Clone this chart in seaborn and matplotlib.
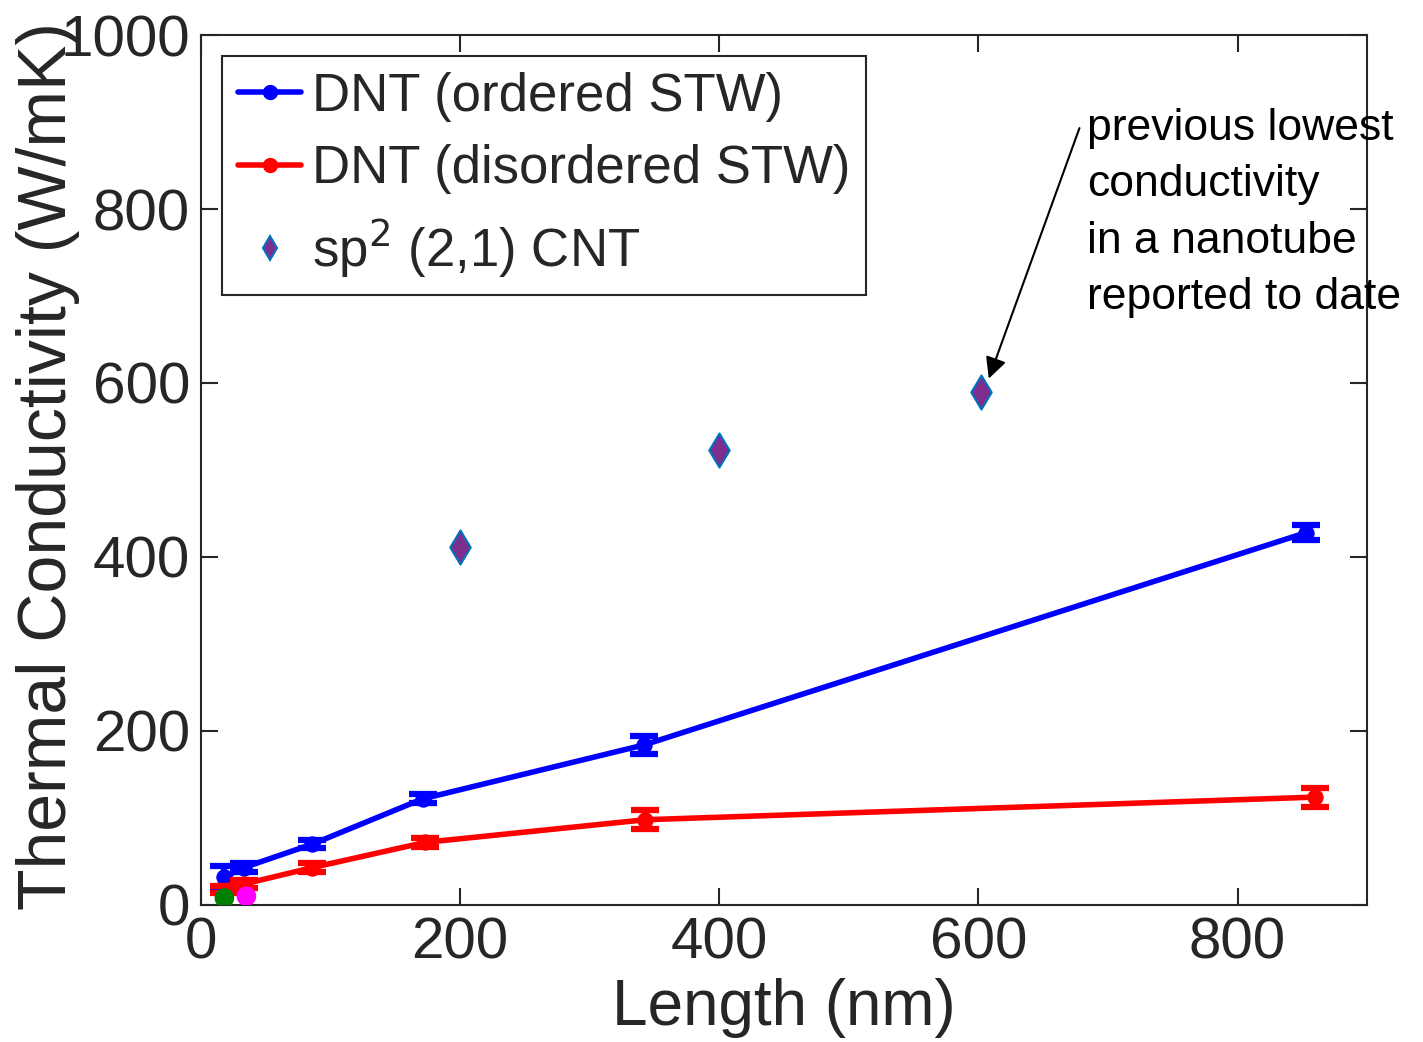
import matplotlib
matplotlib.use("Agg")
import matplotlib.pyplot as plt
from matplotlib.lines import Line2D
import seaborn as sns
import pandas as pd

# Ordered Stone-Thrower-Wales diamond nanothreads
len_ordered = [18, 33, 86, 171, 342, 853]
k_ordered = [32, 43, 70, 122, 184, 428]
err_ordered = [13, 5, 5, 5, 10, 9]

# Disordered Stone-Thrower-Wales diamond nanothreads
len_disordered = [18, 33, 86, 173, 343, 860]
k_disordered = [18, 24, 43, 72, 98, 124]
err_disordered = [4, 5, 5, 5, 11, 11]

# sp2 (2,1) carbon nanotube
len_cnt = [200, 400, 602]
k_cnt = [411, 523, 590]

# Single short-length points
len_extra = [18, 35]
k_extra = [8, 10]
extra_colors = ["#008000", "#ff00ff"]

sns.set_theme(style="ticks")
plt.rcParams["font.family"] = ["Liberation Sans", "DejaVu Sans"]

fig = plt.figure(figsize=(14.23, 10.42), dpi=100)
ax = fig.add_axes([0.1413, 0.1315, 0.8194, 0.8349])

df_o = pd.DataFrame({"L": len_ordered, "k": k_ordered})
df_d = pd.DataFrame({"L": len_disordered, "k": k_disordered})
df_c = pd.DataFrame({"L": len_cnt, "k": k_cnt})

sns.lineplot(data=df_o, x="L", y="k", ax=ax, color="#0000ff", linewidth=4.0,
             marker="o", markersize=11, markeredgecolor="#0000ff", zorder=3)
sns.lineplot(data=df_d, x="L", y="k", ax=ax, color="#ff0000", linewidth=4.0,
             marker="o", markersize=11, markeredgecolor="#ff0000", zorder=3)
ax.errorbar(len_ordered, k_ordered, yerr=err_ordered, fmt="none",
            ecolor="#0000ff", elinewidth=4.5, capsize=10, capthick=4.5, zorder=3)
ax.errorbar(len_disordered, k_disordered, yerr=err_disordered, fmt="none",
            ecolor="#ff0000", elinewidth=4.5, capsize=10, capthick=4.5, zorder=3)

sns.scatterplot(data=df_c, x="L", y="k", ax=ax, marker="d", s=300,
                color="#7e2f8e", edgecolor="#0072bd", linewidth=1.5, zorder=4)
sns.scatterplot(x=len_extra, y=k_extra, ax=ax, hue=extra_colors,
                palette={c: c for c in extra_colors}, s=200, linewidth=0,
                legend=False, zorder=5)

ax.set_xlim(0, 900)
ax.set_ylim(0, 1000)
ax.set_xticks([0, 200, 400, 600, 800])
ax.set_yticks([0, 200, 400, 600, 800, 1000])
ax.tick_params(direction="in", length=12, width=1.5, top=True, right=True,
               labelsize=42, colors="#262626", pad=8)
for s in ax.spines.values():
    s.set_visible(True)
    s.set_linewidth(1.5)
    s.set_color("#262626")

ax.set_xlabel("Length (nm)", fontsize=46, color="#262626", labelpad=6)
ax.set_ylabel("Thermal Conductivity (W/mK)", fontsize=49, color="#262626")
ax.yaxis.set_label_coords(-0.104, 0.505)

handles = [
    Line2D([], [], color="#0000ff", lw=4.0, marker="o", markersize=10),
    Line2D([], [], color="#ff0000", lw=4.0, marker="o", markersize=10),
    Line2D([], [], color="#7e2f8e", lw=0, marker="d", markersize=12,
           markeredgecolor="#0072bd", markeredgewidth=1.5),
]
labels = ["DNT (ordered STW)", "DNT (disordered STW)", "sp$^2$ (2,1) CNT"]
leg = ax.legend(handles, labels, loc="upper left", fontsize=38,
                frameon=True, fancybox=False, edgecolor="#262626",
                borderaxespad=0.4, handlelength=1.2, handletextpad=0.2,
                labelspacing=0.42, borderpad=0.3)
leg.get_frame().set_linewidth(1.5)
leg.get_frame().set_alpha(1)

ax.text(684, 916, "previous lowest\nconductivity\nin a nanotube\nreported to date",
        fontsize=32, color="black", ha="left", va="top", linespacing=1.48)
ax.annotate("", xy=(608, 605), xytext=(678, 893),
            arrowprops=dict(arrowstyle="-|>", color="black", lw=1.5,
                            mutation_scale=32, shrinkA=0, shrinkB=0))

fig.savefig("out.png", dpi=100)
